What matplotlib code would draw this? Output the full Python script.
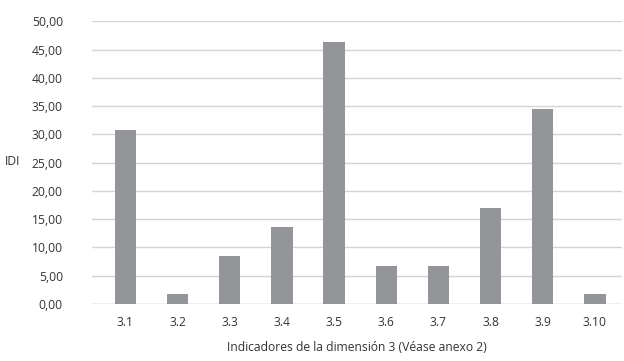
import matplotlib
matplotlib.use("Agg")
import matplotlib.pyplot as plt
from matplotlib.ticker import FuncFormatter

# Datos del gráfico
indicadores = ['3.1', '3.2', '3.3', '3.4', '3.5', '3.6', '3.7', '3.8', '3.9', '3.10']
idi = [30.85, 1.72, 8.44, 13.70, 46.40, 6.78, 6.78, 17.05, 34.45, 1.72]
y_ticks = [0, 5, 10, 15, 20, 25, 30, 35, 40, 45, 50]

plt.rcParams['font.family'] = ['Open Sans', 'DejaVu Sans']
texto = '#333333'

fig = plt.figure(figsize=(6.24, 3.61), dpi=100)
ax = fig.add_axes([92 / 624, 57 / 361, 530 / 624, 282.7 / 361])

x = range(len(indicadores))
ax.bar(x, idi, width=0.41, color='#939598', zorder=2)

ax.set_xlim(-0.64, 9.52)
ax.set_ylim(0, 50)
ax.set_yticks(y_ticks)
ax.yaxis.set_major_formatter(FuncFormatter(lambda v, p: f'{v:.2f}'.replace('.', ',')))
ax.set_xticks(list(x))
ax.set_xticklabels(indicadores)

# Rejilla horizontal
ax.grid(axis='y', color='#d4d4d4', linewidth=1.0, zorder=0)
for s in ax.spines.values():
    s.set_visible(False)
ax.axhline(0, color='#d4d4d4', linewidth=1.0, zorder=1)

ax.tick_params(axis='both', length=0, labelsize=8.7, colors=texto)
ax.tick_params(axis='y', pad=21)
ax.tick_params(axis='x', pad=9)

ax.set_xlabel('Indicadores de la dimensión 3 (Véase anexo 2)', fontsize=8.7, color=texto, labelpad=8)
fig.text(5 / 624, 1 - 162 / 361, 'IDI', fontsize=8.7, color=texto, ha='left', va='center')

fig.savefig('out.png', dpi=100)
